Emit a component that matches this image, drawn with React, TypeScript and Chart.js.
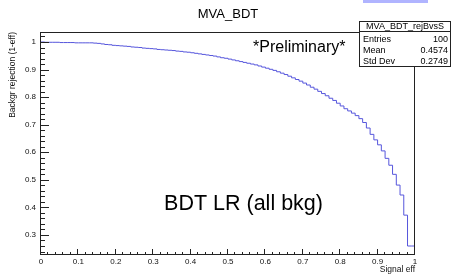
import React, { useEffect, useRef } from "react";
import { Chart, registerables } from "chart.js";

Chart.register(...registerables);

const FONT = '"Liberation Sans", Arial, Helvetica, sans-serif';

const TITLE = "MVA_BDT";
const X_TITLE = "Signal eff";
const Y_TITLE = "Backgr rejection (1-eff)";
const PRELIM_TEXT = "*Preliminary*";
const LABEL_TEXT = "BDT LR (all bkg)";

const BIN_LOW = 0;
const BIN_HIGH = 1;
// background rejection per signal-efficiency bin (100 bins)
const rejection = [
  1.0, 1.0, 0.999, 0.999, 0.999, 0.999, 0.998, 0.998, 0.998, 0.998,
  0.997, 0.997, 0.997, 0.997, 0.997, 0.996, 0.995, 0.993, 0.991, 0.99,
  0.988, 0.987, 0.986, 0.985, 0.984, 0.982, 0.981, 0.98, 0.978, 0.977,
  0.976, 0.975, 0.973, 0.972, 0.971, 0.97, 0.969, 0.967, 0.966, 0.964,
  0.963, 0.961, 0.959, 0.957, 0.955, 0.953, 0.951, 0.949, 0.946, 0.943,
  0.941, 0.938, 0.935, 0.932, 0.929, 0.926, 0.923, 0.92, 0.917, 0.913,
  0.909, 0.905, 0.901, 0.897, 0.892, 0.887, 0.882, 0.876, 0.87, 0.864,
  0.858, 0.851, 0.844, 0.836, 0.829, 0.821, 0.813, 0.805, 0.796, 0.788,
  0.778, 0.768, 0.758, 0.75, 0.742, 0.733, 0.722, 0.708, 0.688, 0.665,
  0.645, 0.627, 0.605, 0.578, 0.553, 0.52, 0.481, 0.445, 0.372, 0.26,
];

const xTickValues = [0, 0.1, 0.2, 0.3, 0.4, 0.5, 0.6, 0.7, 0.8, 0.9, 1];
const xTickLabels = ["0", "0.1", "0.2", "0.3", "0.4", "0.5", "0.6", "0.7", "0.8", "0.9", "1"];
const yTickValues = [0.3, 0.4, 0.5, 0.6, 0.7, 0.8, 0.9, 1];
const yTickLabels = ["0.3", "0.4", "0.5", "0.6", "0.7", "0.8", "0.9", "1"];
const X_MINOR_STEP = 0.02;
const Y_MINOR_STEP = 0.02;
const Y_MIN = 0.2274;
const Y_MAX = 1.0363;

const statsTitle = "MVA_BDT_rejBvsS";
const statsNames = ["Entries", "Mean", "Std Dev"];
const statsValues = ["100", "0.4574", "0.2749"];

function lookup(values: number[], labels: string[], v: number) {
  const i = values.findIndex((t) => Math.abs(t - v) < 1e-9);
  return i >= 0 ? labels[i] : "";
}

const decorPlugin = {
  id: "rootDecor",
  afterDraw(chart: any) {
    const ctx: CanvasRenderingContext2D = chart.ctx;
    const { left, right, top, bottom } = chart.chartArea;
    const xs = chart.scales.x;
    const ys = chart.scales.y;
    ctx.save();

    // frame
    ctx.strokeStyle = "#222";
    ctx.lineWidth = 1;
    ctx.strokeRect(Math.round(left) - 0.5, Math.round(top) + 0.5, Math.round(right - left), Math.round(bottom - top) - 1);

    // y ticks
    ctx.beginPath();
    const yStart = Math.ceil(Y_MIN / Y_MINOR_STEP - 1e-9);
    const yEnd = Math.floor(Y_MAX / Y_MINOR_STEP + 1e-9);
    for (let i = yStart; i <= yEnd; i++) {
      const v = i * Y_MINOR_STEP;
      const major = yTickValues.some((t) => Math.abs(t - v) < 1e-9);
      const py = Math.round(ys.getPixelForValue(v)) + 0.5;
      const len = major ? 8 : 4;
      ctx.moveTo(left, py);
      ctx.lineTo(left + len, py);
    }
    // x ticks
    const xEnd = Math.round((BIN_HIGH - BIN_LOW) / X_MINOR_STEP);
    for (let i = 0; i <= xEnd; i++) {
      const v = BIN_LOW + i * X_MINOR_STEP;
      const major = xTickValues.some((t) => Math.abs(t - v) < 1e-9);
      const px = Math.round(xs.getPixelForValue(v)) - 0.5;
      const len = major ? 6 : 3;
      ctx.moveTo(px, bottom);
      ctx.lineTo(px, bottom - len);
    }
    ctx.stroke();

    // title
    ctx.fillStyle = "#000";
    ctx.font = `13px ${FONT}`;
    ctx.textAlign = "center";
    ctx.textBaseline = "alphabetic";
    ctx.fillText(TITLE, 228, 18);

    // annotations
    ctx.font = `16px ${FONT}`;
    ctx.textAlign = "left";
    ctx.fillText(PRELIM_TEXT, 253, 52);
    ctx.font = `21.5px ${FONT}`;
    ctx.textAlign = "center";
    ctx.fillText(LABEL_TEXT, 243.5, 210);

    // blue tab at top
    ctx.fillStyle = "rgb(176,180,255)";
    ctx.fillRect(363, 0, 65, 3);

    // stats box
    const bx = 359.5, by = 21.5, bw = 91, bh = 45;
    ctx.fillStyle = "#fff";
    ctx.fillRect(bx, by, bw, bh);
    ctx.strokeStyle = "#222";
    ctx.strokeRect(bx, by, bw, bh);
    ctx.beginPath();
    ctx.moveTo(bx, 31.5);
    ctx.lineTo(bx + bw, 31.5);
    ctx.stroke();
    ctx.fillStyle = "#000";
    ctx.font = `9px ${FONT}`;
    ctx.textAlign = "center";
    ctx.fillText(statsTitle, bx + bw / 2, 29);
    const rowY = [42, 53, 64];
    statsNames.forEach((n, i) => {
      ctx.textAlign = "left";
      ctx.fillText(n, 363, rowY[i]);
      ctx.textAlign = "right";
      ctx.fillText(statsValues[i], 448, rowY[i]);
    });

    ctx.restore();
  },
};

export default function App() {
  const ref = useRef<HTMLCanvasElement | null>(null);
  useEffect(() => {
    document.body.style.margin = "0";
    const canvas = ref.current;
    if (!canvas) return;
    const binWidth = (BIN_HIGH - BIN_LOW) / rejection.length;
    const points = rejection.map((v, i) => ({ x: BIN_LOW + i * binWidth, y: v }));
    points.push({ x: BIN_HIGH, y: rejection[rejection.length - 1] });

    const chart = new Chart(canvas, {
      type: "line",
      data: {
        datasets: [
          {
            data: points,
            stepped: "after",
            borderColor: "rgb(86,86,220)",
            borderWidth: 1,
            pointRadius: 0,
            fill: false,
          },
        ],
      },
      options: {
        responsive: false,
        animation: false,
        devicePixelRatio: 1,
        layout: { padding: { top: 32, right: 36, left: 0, bottom: 0 } },
        plugins: { legend: { display: false }, tooltip: { enabled: false } },
        scales: {
          x: {
            type: "linear",
            min: BIN_LOW,
            max: BIN_HIGH,
            grid: { display: false, drawTicks: false },
            border: { display: false },
            afterBuildTicks: (s: any) => {
              s.ticks = xTickValues.map((v) => ({ value: v }));
            },
            afterFit: (s: any) => {
              s.height = 19;
            },
            ticks: {
              autoSkip: false,
              maxRotation: 0,
              padding: 2,
              color: "#111",
              font: { family: FONT, size: 8 },
              callback: (v: any) => lookup(xTickValues, xTickLabels, Number(v)),
            },
            title: {
              display: true,
              text: X_TITLE,
              align: "end",
              color: "#111",
              font: { family: FONT, size: 8.5, lineHeight: 1 },
              padding: { top: 0, bottom: 0 },
            },
          },
          y: {
            type: "linear",
            min: Y_MIN,
            max: Y_MAX,
            grid: { display: false, drawTicks: false },
            border: { display: false },
            afterBuildTicks: (s: any) => {
              s.ticks = yTickValues.map((v) => ({ value: v }));
            },
            afterFit: (s: any) => {
              s.width = 41;
            },
            ticks: {
              padding: 5,
              color: "#111",
              font: { family: FONT, size: 8 },
              callback: (v: any) => lookup(yTickValues, yTickLabels, Number(v)),
            },
            title: {
              display: true,
              text: Y_TITLE,
              align: "end",
              color: "#111",
              font: { family: FONT, size: 8.5, lineHeight: 1 },
              padding: { top: 8, bottom: 0 },
            },
          },
        },
      },
      plugins: [decorPlugin],
    } as any);
    return () => chart.destroy();
  }, []);
  return <canvas ref={ref} width={451} height={274} style={{ display: "block", width: 451, height: 274 }} />;
}
